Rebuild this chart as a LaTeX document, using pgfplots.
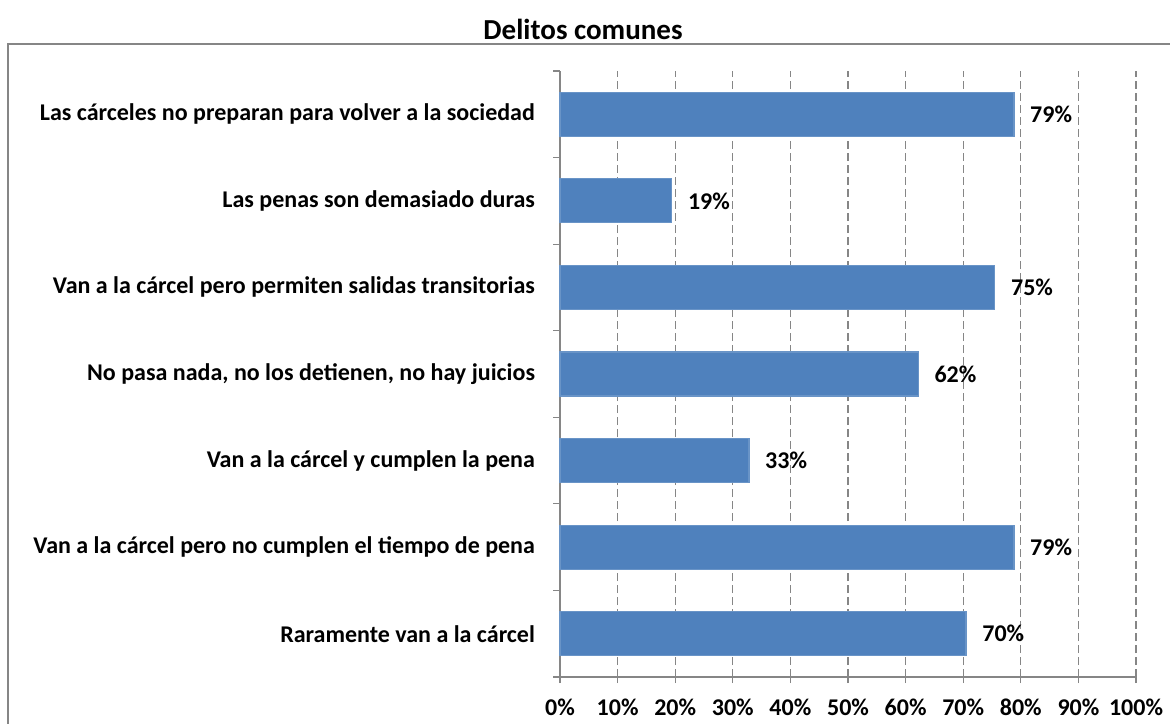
\documentclass[border=0pt]{standalone}
\usepackage{fontspec}
\setmainfont{Carlito}
\usepackage{pgfplots}
\pgfplotsset{compat=1.18}
\definecolor{barblue}{HTML}{4F81BD}
\definecolor{framegray}{HTML}{868686}

\begin{document}
\begin{tikzpicture}[x=1pt,y=1pt]
\useasboundingbox (0,0) rectangle (585,361.5);
% chart frame (left and top edges only are visible)
\draw[framegray, line width=0.8pt] (4,-2) -- (4,339.5) -- (587,339.5);
\node[font=\fontsize{14.5}{17}\selectfont\bfseries] at (291.5,347) {Delitos comunes};
\begin{axis}[
    at={(280pt,23pt)}, anchor=south west,
    scale only axis, width=288pt, height=303pt,
    xbar, bar width=22pt,
    xmin=0, xmax=100, ymin=0.5, ymax=7.5,
    axis lines=left, axis line style={-, framegray, line width=0.8pt},
    clip=false,
    xtick={0,10,...,100},
    xticklabel={\pgfmathprintnumber{\tick}\%},
    xmajorgrids,
    grid style={framegray, line width=0.6pt, dash pattern=on 4pt off 2pt},
    tick align=outside,
    major tick length=3pt, minor tick length=3.5pt,
    x tick style={framegray, line width=0.6pt},
    ytick={1,...,7},
    y tick style={draw=none},
    minor ytick={0.5,1.5,...,7.5},
    minor y tick style={draw=framegray, line width=0.6pt},
    yticklabels={
        Raramente van a la cárcel,
        Van a la cárcel pero no cumplen el tiempo de pena,
        Van a la cárcel y cumplen la pena,
        {No pasa nada, no los detienen, no hay juicios},
        Van a la cárcel pero permiten salidas transitorias,
        Las penas son demasiado duras,
        Las cárceles no preparan para volver a la sociedad},
    /pgf/number format/assume math mode=true,
    ticklabel style={font=\fontsize{12}{14}\selectfont\bfseries},
    yticklabel style={xshift=-6pt},
    xticklabel style={yshift=-4.5pt},
    nodes near coords,
    point meta=explicit symbolic,
    every node near coord/.append style={font=\fontsize{12}{14}\selectfont\bfseries, anchor=west, xshift=4.5pt},
]
\addplot[fill=barblue, draw=barblue!85!white, line width=0.6pt] coordinates {
    (70.5,1) [70\%]
    (78.8,2) [79\%]
    (32.8,3) [33\%]
    (62.2,4) [62\%]
    (75.5,5) [75\%]
    (19.4,6) [19\%]
    (78.8,7) [79\%]
};
\end{axis}
\end{tikzpicture}
\end{document}
